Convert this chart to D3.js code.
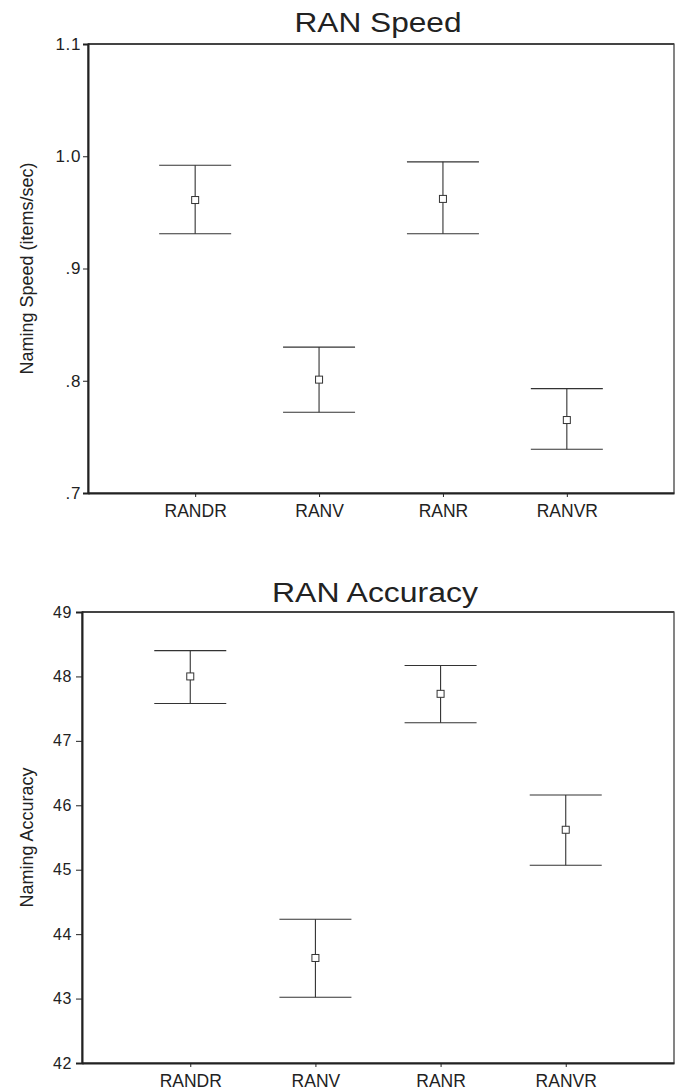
<!DOCTYPE html>
<html>
<head>
<meta charset="utf-8">
<script src="https://cdn.jsdelivr.net/npm/d3@7"></script>
<style>
  html, body { margin: 0; padding: 0; background: #fff; }
  svg { display: block; font-family: "Liberation Sans", Arial, sans-serif; }
</style>
</head>
<body>
<svg id="chart" width="677" height="1091"></svg>
<script>
var categories = ['RANDR', 'RANV', 'RANR', 'RANVR'];

var speedMean  = [0.961, 0.801, 0.962, 0.765];
var speedLower = [0.931, 0.772, 0.931, 0.739];
var speedUpper = [0.992, 0.830, 0.995, 0.793];
var speedTicks = [0.7, 0.8, 0.9, 1.0, 1.1];

var accMean  = [48.00, 43.63, 47.73, 45.62];
var accLower = [47.58, 43.02, 47.28, 45.07];
var accUpper = [48.40, 44.23, 48.17, 46.16];
var accTicks = [42, 43, 44, 45, 46, 47, 48, 49];

var svg = d3.select('#chart');
var ink = '#222';

function BuildChart(opt) {
  var g = svg.append('g');

  var x = d3.scalePoint()
    .domain(categories)
    .range([opt.left, opt.right])
    .padding(0.865);

  var y = d3.scaleLinear()
    .domain([d3.min(opt.ticks), d3.max(opt.ticks)])
    .range([opt.bottom, opt.top]);

  // frame
  g.append('rect')
    .attr('x', opt.left)
    .attr('y', opt.top)
    .attr('width', opt.right - opt.left)
    .attr('height', opt.bottom - opt.top)
    .attr('fill', 'none')
    .attr('stroke', '#333')
    .attr('stroke-width', 1.2);

  g.append('line')
    .attr('x1', opt.left).attr('x2', opt.right)
    .attr('y1', opt.top).attr('y2', opt.top)
    .attr('stroke', '#444').attr('stroke-width', 2);

  // y axis
  var yAxis = g.append('g')
    .attr('transform', 'translate(' + opt.left + ',0)')
    .call(d3.axisLeft(y)
      .tickValues(opt.ticks)
      .tickSize(opt.tickSize)
      .tickPadding(opt.tickPad)
      .tickFormat(opt.format));
  yAxis.select('.domain').attr('stroke', ink).attr('stroke-width', 2);
  yAxis.selectAll('.tick line').attr('stroke', ink);
  yAxis.selectAll('.tick text')
    .attr('fill', ink)
    .attr('font-size', opt.tickFont)
    .attr('letter-spacing', '0.6px')
    .attr('font-family', '"Liberation Sans", Arial, sans-serif');

  // x axis
  var xAxis = g.append('g')
    .attr('transform', 'translate(0,' + opt.bottom + ')')
    .call(d3.axisBottom(x).tickSize(4).tickPadding(8).tickSizeOuter(0));
  xAxis.select('.domain')
    .attr('stroke', ink).attr('stroke-width', 2);
  xAxis.selectAll('.tick line').attr('stroke', ink);
  xAxis.selectAll('.tick text')
    .attr('fill', ink)
    .attr('font-size', '17.5px')
    .attr('font-family', '"Liberation Sans", Arial, sans-serif');

  // title
  svg.append('text')
    .attr('x', (opt.left + opt.right) / 2 - 3)
    .attr('y', opt.titleY)
    .attr('text-anchor', 'middle')
    .attr('font-size', '27px')
    .attr('fill', ink)
    .attr('textLength', opt.titleLen)
    .attr('lengthAdjust', 'spacingAndGlyphs')
    .text(opt.title);

  // y axis title
  svg.append('text')
    .attr('transform', 'translate(33,' + (opt.top + opt.bottom) / 2 + ') rotate(-90)')
    .attr('text-anchor', 'middle')
    .attr('font-size', '18px')
    .attr('fill', ink)
    .text(opt.yTitle);

  // error bars
  var half = 36;
  var bars = g.selectAll('.ebar')
    .data(categories)
    .enter().append('g')
    .attr('class', 'ebar');

  bars.append('line')
    .attr('x1', function(d) { return x(d); })
    .attr('x2', function(d) { return x(d); })
    .attr('y1', function(d, i) { return y(opt.lower[i]); })
    .attr('y2', function(d, i) { return y(opt.upper[i]); })
    .attr('stroke', '#333').attr('stroke-width', 1.1);

  bars.append('line')
    .attr('x1', function(d) { return x(d) - half; })
    .attr('x2', function(d) { return x(d) + half; })
    .attr('y1', function(d, i) { return y(opt.upper[i]); })
    .attr('y2', function(d, i) { return y(opt.upper[i]); })
    .attr('stroke', '#333').attr('stroke-width', 1.1);

  bars.append('line')
    .attr('x1', function(d) { return x(d) - half; })
    .attr('x2', function(d) { return x(d) + half; })
    .attr('y1', function(d, i) { return y(opt.lower[i]); })
    .attr('y2', function(d, i) { return y(opt.lower[i]); })
    .attr('stroke', '#333').attr('stroke-width', 1.1);

  bars.append('rect')
    .attr('x', function(d) { return x(d) - 3.5; })
    .attr('y', function(d, i) { return y(opt.mean[i]) - 3.5; })
    .attr('width', 7)
    .attr('height', 7)
    .attr('fill', '#fff')
    .attr('stroke', '#333')
    .attr('stroke-width', 1);
}

BuildChart({
  left: 88, right: 674, top: 44, bottom: 493,
  ticks: speedTicks,
  format: function(d) { return d3.format('.1f')(d).replace(/^0\./, '.'); },
  tickSize: 5, tickPad: 2, tickFont: '17px',
  mean: speedMean, lower: speedLower, upper: speedUpper,
  title: 'RAN Speed', titleY: 32, titleLen: 167,
  yTitle: 'Naming Speed (items/sec)'
});

BuildChart({
  left: 82, right: 674, top: 612, bottom: 1063,
  ticks: accTicks,
  format: d3.format('d'),
  tickSize: 6, tickPad: 4, tickFont: '16px',
  mean: accMean, lower: accLower, upper: accUpper,
  title: 'RAN Accuracy', titleY: 602, titleLen: 206,
  yTitle: 'Naming Accuracy'
});
</script>
</body>
</html>
